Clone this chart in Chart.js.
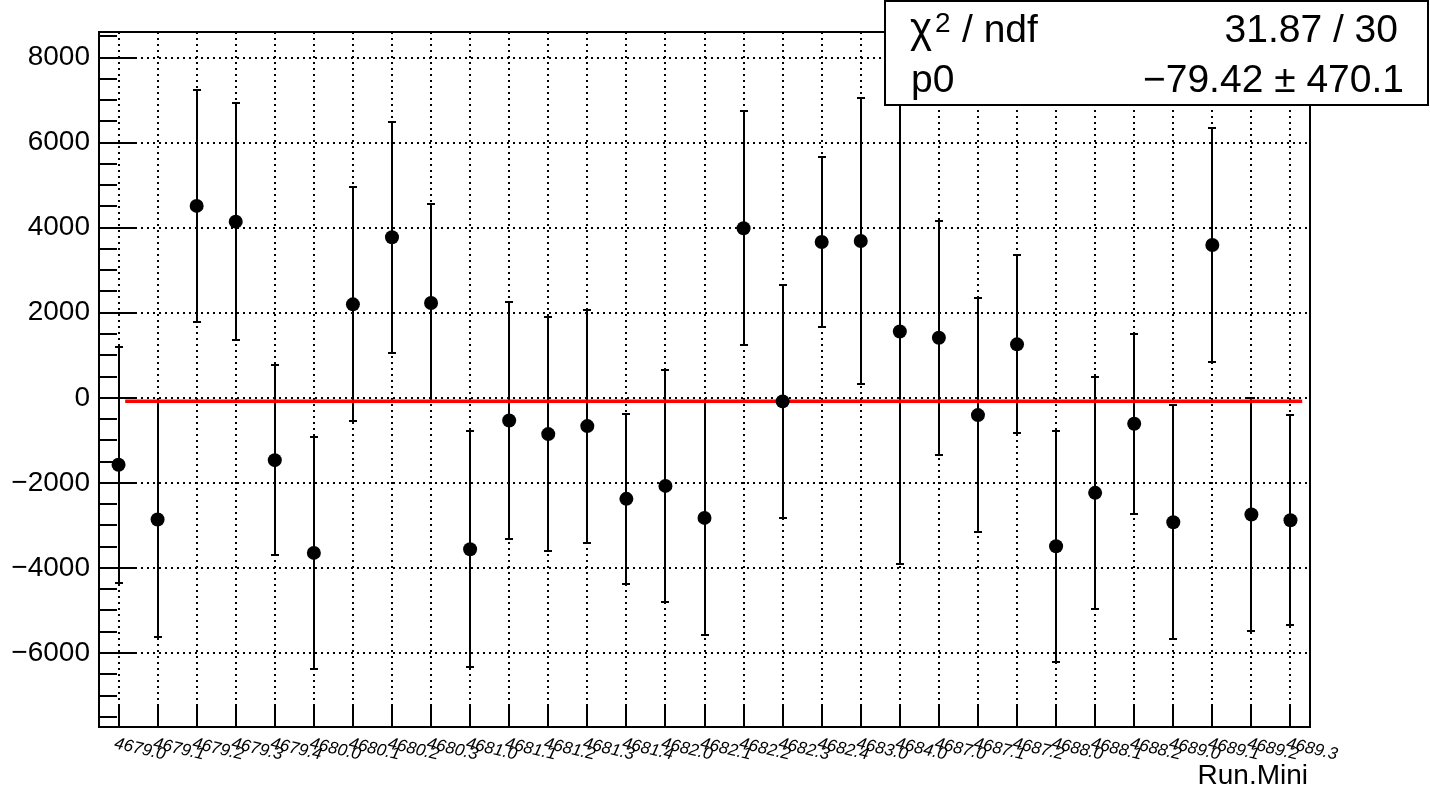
<!DOCTYPE html>
<html>
<head>
<meta charset="utf-8">
<title>Run.Mini fit</title>
<script src="https://cdn.jsdelivr.net/npm/chart.js@4.4.1/dist/chart.umd.min.js"></script>
<style>
    html, body { margin: 0; padding: 0; background: #ffffff; }
    #wrap { width: 1430px; height: 793px; }
</style>
</head>
<body>
<div id="wrap"><canvas id="fitChart" width="1430" height="793"></canvas></div>
<script>
// Run labels (x categories)
const runLabels = [
    '4679.0', '4679.1', '4679.2', '4679.3', '4679.4',
    '4680.0', '4680.1', '4680.2', '4680.3',
    '4681.0', '4681.1', '4681.2', '4681.3', '4681.4',
    '4682.0', '4682.1', '4682.2', '4682.3', '4682.4',
    '4683.0', '4684.0',
    '4687.0', '4687.1', '4687.2',
    '4688.0', '4688.1', '4688.2',
    '4689.0', '4689.1', '4689.2', '4689.3'
];

// Measured values and their errors
const runValues = [
    -1576, -2862, 4511, 4141, -1466,
    -3647, 2197, 3774, 2228,
    -3560, -533, -854, -666, -2376,
    -2071, -2824, 3985, -85, 3664,
    3687, 1560,
    1412, -407, 1256,
    -3489, -2235, -612,
    -2925, 3593, -2745, -2878
];
const runErrors = [
    2780, 2770, 2737, 2785, 2240,
    2730, 2750, 2714, 2330,
    2770, 2785, 2750, 2740, 2000,
    2720, 2753, 2752, 2740, 2008,
    3372, 5460,
    2750, 2746, 2095,
    2715, 2725, 2110,
    2753, 2740, 2740, 2475
];

// Constant fit (pol0) and its drawn range
const fitP0 = -79.42;
const fitRange = [0.17, 30.3];

// Y axis ticks
const yMajorTicks = [-6000, -4000, -2000, 0, 2000, 4000, 6000, 8000];
const yMinorTicks = [-7500, -7000, -6500, -5500, -5000, -4500, -3500, -3000, -2500,
    -1500, -1000, -500, 500, 1000, 1500, 2500, 3000, 3500, 4500, 5000, 5500,
    6500, 7000, 7500, 8500];

// Stats box text
const statsRows = [
    { name: 'ndf', value: '31.87 / 30' },
    { name: 'p0', value: '\u221279.42 \u00b1 470.1' }
];

const FONT = '"Liberation Sans", Arial, Helvetica, sans-serif';

function fmtNum(v) {
    return v < 0 ? '\u2212' + Math.abs(v) : String(v);
}

// Error bars, drawn before the markers
const errorBarPlugin = {
    id: 'errorBars',
    beforeDatasetsDraw(chart) {
        const { ctx, scales: { x, y }, chartArea } = chart;
        ctx.save();
        ctx.beginPath();
        ctx.rect(chartArea.left, chartArea.top, chartArea.right - chartArea.left, chartArea.bottom - chartArea.top);
        ctx.clip();
        ctx.strokeStyle = '#000000';
        ctx.lineWidth = 2;
        runValues.forEach((v, i) => {
            const px = Math.round(x.getPixelForValue(i));
            const top = Math.round(y.getPixelForValue(v + runErrors[i]));
            const bot = Math.round(y.getPixelForValue(v - runErrors[i]));
            ctx.beginPath();
            ctx.moveTo(px, top);
            ctx.lineTo(px, bot);
            ctx.moveTo(px - 4, top);
            ctx.lineTo(px + 4, top);
            ctx.moveTo(px - 4, bot);
            ctx.lineTo(px + 4, bot);
            ctx.stroke();
        });
        ctx.restore();
    }
};

// Frame, inner ticks, slanted run labels, axis title and stats box
const framePlugin = {
    id: 'rootFrame',
    afterDraw(chart) {
        const { ctx, scales: { x, y }, chartArea: a } = chart;
        ctx.save();
        ctx.strokeStyle = '#000000';
        ctx.lineWidth = 2;
        ctx.setLineDash([]);
        ctx.strokeRect(a.left, a.top, a.right - a.left, a.bottom - a.top);

        // y ticks, pointing into the frame
        ctx.beginPath();
        yMajorTicks.forEach(v => {
            const py = Math.round(y.getPixelForValue(v));
            ctx.moveTo(a.left, py);
            ctx.lineTo(a.left + 36, py);
        });
        yMinorTicks.forEach(v => {
            const py = Math.round(y.getPixelForValue(v));
            ctx.moveTo(a.left, py);
            ctx.lineTo(a.left + 18, py);
        });
        // x ticks
        runLabels.forEach((_, i) => {
            const px = Math.round(x.getPixelForValue(i));
            ctx.moveTo(px, a.bottom);
            ctx.lineTo(px, a.bottom - 22);
        });
        ctx.stroke();

        // run labels, slanted downwards
        ctx.fillStyle = '#000000';
        ctx.font = 'italic 17px ' + FONT;
        ctx.textAlign = 'left';
        ctx.textBaseline = 'top';
        runLabels.forEach((lab, i) => {
            const px = x.getPixelForValue(i);
            ctx.save();
            ctx.translate(px - 2, a.bottom + 8);
            ctx.rotate(13 * Math.PI / 180);
            ctx.fillText(lab, 0, 0);
            ctx.restore();
        });

        // axis title
        ctx.font = '28px ' + FONT;
        ctx.textAlign = 'right';
        ctx.textBaseline = 'alphabetic';
        ctx.fillText('Run.Mini', a.right - 2, 784);

        // stats box
        ctx.fillStyle = '#ffffff';
        ctx.fillRect(885, 1, 543, 104);
        ctx.strokeRect(885, 1, 543, 104);
        ctx.fillStyle = '#000000';
        ctx.textAlign = 'left';
        ctx.font = '42px ' + FONT;
        ctx.fillText('\u03c7', 910, 42);
        ctx.font = '28px ' + FONT;
        ctx.fillText('2', 935, 32);
        ctx.font = '39px ' + FONT;
        ctx.fillText('/ ' + statsRows[0].name, 962, 42);
        ctx.fillText(statsRows[1].name, 911, 92);
        ctx.textAlign = 'right';
        ctx.fillText(statsRows[0].value, 1398, 42);
        ctx.fillText(statsRows[1].value, 1404, 92);
        ctx.restore();
    }
};

const gridStyle = {
    color: '#000000',
    lineWidth: 2,
    drawTicks: false
};

const chart = new Chart(document.getElementById('fitChart').getContext('2d'), {
    type: 'scatter',
    data: {
        datasets: [{
            label: 'fit',
            type: 'line',
            order: 2,
            data: fitRange.map(xv => ({ x: xv, y: fitP0 })),
            borderColor: '#ff0000',
            borderWidth: 3.5,
            pointRadius: 0,
            fill: false
        }, {
            label: 'runs',
            order: 1,
            data: runValues.map((v, i) => ({ x: i, y: v })),
            backgroundColor: '#000000',
            borderWidth: 0,
            pointRadius: 7,
            pointHoverRadius: 7
        }]
    },
    options: {
        responsive: false,
        animation: false,
        events: [],
        layout: { padding: { left: 0, top: 32, right: 120, bottom: 66 } },
        plugins: {
            legend: { display: false },
            tooltip: { enabled: false }
        },
        scales: {
            x: {
                type: 'linear',
                min: -0.5,
                max: 30.5,
                afterBuildTicks: s => { s.ticks = runLabels.map((_, i) => ({ value: i })); },
                afterFit: s => { s.height = 0; },
                ticks: { display: false },
                grid: gridStyle,
                border: { display: false, dash: [2, 4] }
            },
            y: {
                min: -7740,
                max: 8600,
                afterBuildTicks: s => { s.ticks = yMajorTicks.map(v => ({ value: v })); },
                afterFit: s => { s.width = 99; },
                ticks: {
                    color: '#000000',
                    padding: 9,
                    font: { family: FONT, size: 28 },
                    callback: v => fmtNum(v)
                },
                grid: gridStyle,
                border: { display: false, dash: [2, 4] }
            }
        }
    },
    plugins: [errorBarPlugin, framePlugin]
});
</script>
</body>
</html>
